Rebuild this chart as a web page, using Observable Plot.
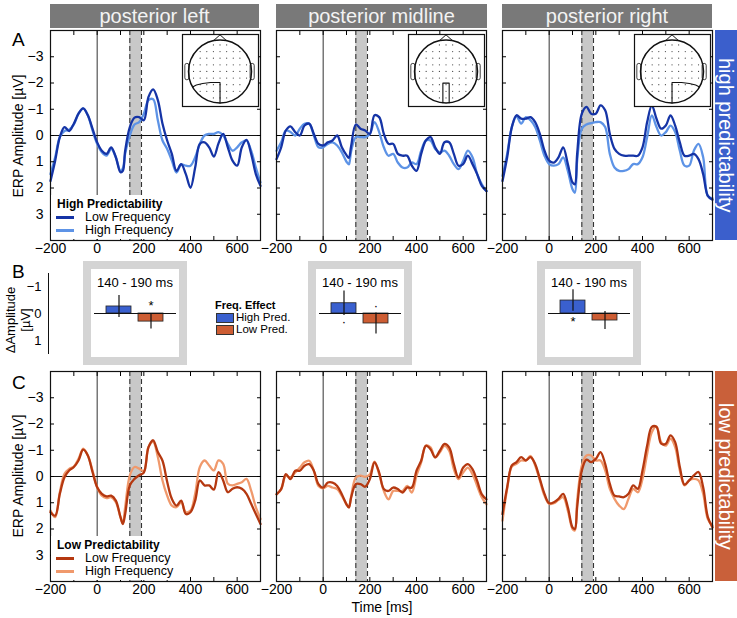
<!DOCTYPE html>
<html><head><meta charset="utf-8">
<script src="https://cdn.jsdelivr.net/npm/d3@7"></script>
<script src="https://cdn.jsdelivr.net/npm/@observablehq/plot@0.6"></script>
<style>
body{margin:0;background:#fff;font-family:"Liberation Sans",Arial,Helvetica,sans-serif;}
#fig{position:relative;width:737px;height:618px;overflow:hidden;background:#fff;}
#fig > *{position:absolute;}
.title{background:#797979;color:#f3f3f3;font-size:20px;text-align:center;height:24px;line-height:25px;}
.side{color:#fff;font-size:20px;writing-mode:vertical-rl;text-align:center;line-height:22px;width:22px;}
.plabel{font-size:19px;line-height:19px;}
.ylab{font-size:14px;white-space:nowrap;text-align:center;transform:translate(-50%,-50%) rotate(-90deg);}
.leg{background:#fff;}
.leg div{position:absolute;white-space:nowrap;}
</style>
</head><body><div id="fig"></div>
<script>
// ---------------- data ----------------
const times = [-200,-180,-160,-140,-120,-100,-80,-60,-40,-20,0,20,40,60,80,100,110,120,140,160,180,200,220,240,260,280,300,320,340,360,380,400,420,440,460,480,500,520,540,560,580,600,620,640,660,680,700];

// A: high predictability (Low Frequency = dark, High Frequency = light)
const aLeftLow   = [1.73,0.96,0.06,-0.32,-0.17,-0.45,-0.83,-1.03,-0.77,-0.26, 0.26,0.58,0.7,0.45,0.83,1.4, 1.35, 0.58,-0.32,-0.68,-0.7,-0.58,-1.47,-1.76,-1.35,-0.45, 0.19,0.7,1.35,1.09,1.47,1.99,1.22,0.32,0.26,0.45, 0.8,0.3,-0.06,0.45,0.96,1.15,0.45,0.17,0.7,1.47, 1.92];
const aLeftHigh  = [1.47,0.83,0.06,-0.17,-0.22,-0.42,-0.83,-1.03,-0.77,-0.19, 0.32,0.64,0.77,0.51,0.83,1.35, 1.25, 0.7,0,-0.42,-0.51,-0.83,-1.35,-1.38,-0.58,0.19, 0.51,0.96,1.41,1.1,1.15,1.15,0.83,0.32,0,-0.06, -0.06,-0.13,0,0.32,0.58,0.45,0.26,0.19,0.58,1.22, 1.79];
const aMidLow    = [0.9,0.45,-0.19,-0.35,-0.13,0,-0.38,-0.45,-0.06,0.32, 0.38,0.26,0.19,0,0.45,0.75, 0.85, 0.4,-0.42,-0.26,-0.19,-0.06,-0.77,-0.7,-0.06,0.32, 0.32,0.7,0.77,0.77,1.15,1.35,0.7,0.19,0.06,0.45, 0.7,0.26,0.26,0.7,1.15,1.09,0.77,1.09,1.47,1.92, 2.12];
const aMidHigh   = [0.58,0.26,-0.19,-0.13,0,-0.26,-0.45,-0.45,0,0.45, 0.45,0.32,0.26,0.38,0.64,1.0, 1.1, 0.6,0.06,0.06,0.06,-0.06,-0.51,-0.13,0.45,0.77, 0.7,1.03,1.22,1.22,1.03,1.09,0.58,0.19,0.19,0.51, 0.64,0.58,0.77,1.09,1.28,0.96,0.58,0.83,1.47,1.86, 2.12];
const aRightLow  = [1.73,0.83,-0.32,-0.77,-0.64,-0.64,-0.7,-0.51,-0.06,0.58, 0.96,1.03,0.83,0.45,1.09,1.79, 1.86, 0.7,-0.83,-1.09,-0.83,-0.83,-1.15,-0.96,-0.06,0.51, 0.7,0.77,0.77,0.77,0.77,0.45,-0.51,-1.15,-0.64,-0.26, -0.38,-0.77,-0.38,0.26,0.77,0.77,0.7,0.9,1.47,2.3, 2.45];
const aRightHigh = [1.54,0.7,-0.32,-0.73,-0.45,-0.7,-0.58,-0.32,0.19,0.77, 1.09,1.15,1.09,0.83,1.35,2.05, 2.18, 0.96,-0.26,-0.42,-0.47,-0.51,-0.51,-0.32,0.7,1.22, 1.35,1.35,1.28,1.09,1.09,0.83,0.06,-0.77,-0.32,0, -0.13,-0.38,-0.13,0.58,1.15,1.15,0.58,0.32,0.83,2.3, 2.4];

// C: low predictability
const cLeftLow   = [1.36,1.49,0.66,0.03,-0.23,-0.36,-0.61,-1.02,-0.8,-0.17, 0.41,0.66,0.76,0.73,0.92,1.55, 1.81, 1.43,0.34,0.09,-0.05,-0.15,-1.12,-1.38,-0.93,-0.6, 0.2,0.85,1.11,0.92,1.43,1.36,0.92,0.15,0.34,0.34, 0.5,-0.17,0.15,0.6,0.47,0.41,0.47,0.66,1.04,1.43, 1.81];
const cLeftHigh  = [1.3,1.55,0.6,-0.1,-0.29,-0.38,-0.67,-1.06,-0.8,-0.23, 0.41,0.73,0.82,0.79,0.98,1.55, 1.78, 1.17,-0.04,-0.36,-0.3,-0.2,-1.12,-1.32,-0.74,0.15, 0.73,1.11,1.17,0.98,1.36,1.3,0.66,-0.36,-0.61,-0.42, -0.23,-0.61,-0.48,0.28,0.34,0.28,0.22,0.09,0.54,1.17, 1.62];
const cMidLow    = [0.68,0.48,-0.09,0.1,-0.22,-0.22,-0.41,-0.47,-0.22,0.29, 0.42,0.23,0.23,0.36,0.68,1.06, 1.18, 0.8,0.29,0.29,0.39,0.1,-0.54,-0.15,0.48,0.55, 0.42,0.48,0.61,0.42,0.42,-0.22,-0.6,-1.17,-1.04,-0.73, -0.98,-1.24,-1.11,-0.47,0.04,-0.34,-0.47,-0.28,0.17,0.68, 0.87];
const cMidHigh   = [0.68,0.48,-0.03,0.04,-0.15,-0.34,-0.54,-0.6,-0.22,0.36, 0.45,0.36,0.42,0.48,0.74,1.06, 1.18, 0.74,0.04,-0.03,0.01,-0.09,-0.57,-0.09,0.55,0.87, 0.55,0.55,0.55,0.36,0.61,-0.03,-0.54,-1.17,-1.11,-0.73, -0.92,-1.17,-0.98,-0.28,0.1,-0.15,-0.34,-0.09,0.36,0.8, 1.06];
const cRightLow  = [1.43,0.41,-0.42,-0.55,-0.74,-0.61,-0.74,-0.48,0.09,0.66, 1.02,0.98,0.85,0.66,1.17,1.94, 2.0, 1.17,-0.23,-0.64,-0.55,-0.67,-0.93,-0.48,0.28,0.73, 0.76,0.79,0.66,0.34,0.47,-0.23,-1.18,-1.89,-1.89,-1.25, -1.25,-1.57,-1.31,-0.36,0.31,0.15,-0.04,-0.17,0.41,1.55, 1.94];
const cRightHigh = [1.68,0.47,-0.38,-0.48,-0.61,-0.61,-0.78,-0.42,0.15,0.73, 1.04,1.02,0.89,0.79,1.3,2.0, 2.06, 0.92,-0.42,-0.8,-0.8,-0.61,-0.61,-0.23,0.47,0.85, 1.11,1.24,0.85,0.47,0.6,0.09,-0.87,-1.69,-1.91,-1.31, -1.18,-1.44,-1.12,-0.23,0.34,0.15,0.09,0.15,0.66,1.62, 1.87];

// analysis window (ms)
const effectWindow = [140, 190];

// B: frequency effect (ΔAmplitude) per region
const conditions = ["High Pred.", "Low Pred."];
const barLeft  = [-0.26, 0.30], errLeft  = [0.41, 0.27], sigLeft  = ["", "*"];
const barMid   = [-0.38, 0.37], errMid   = [0.45, 0.39], sigMid   = ["·", "·"];
const barRight = [-0.48, 0.26], errRight = [0.40, 0.33], sigRight = ["*", ""];

// tick labels
const xLabels = [-200, 0, 200, 400, 600];
const xMinor = [-100, 0, 100, 200, 300, 400, 500, 600];
const yTicks = [-3, -2, -1, 0, 1, 2, 3];
const bTicks = [-1, 0, 1];
const regionTitles = ["posterior left", "posterior midline", "posterior right"];
const seriesNames = ["Low Frequency", "High Frequency"];

// electrode grid (scalp map) and ROIs
const elecGrid = [-0.84,-0.63,-0.42,-0.21,0,0.21,0.42,0.63,0.84];
const roiLeft  = [[0,-1],[0,-0.35],[-0.3,-0.35],[-0.55,-0.38],[-0.75,-0.43],[-0.87,-0.49]];
const roiMid   = [[-0.1,-0.99],[-0.1,-0.37],[0.1,-0.37],[0.1,-0.99]];
const roiRight = [[0,-1],[0,-0.35],[0.3,-0.35],[0.55,-0.38],[0.75,-0.43],[0.87,-0.49]];
const noseShape = [[-0.2,0.98],[0,1.16],[0.2,0.98]];
const earShapes = [{x1:-1.1,x2:-0.97,y1:-0.28,y2:0.24},{x1:0.97,x2:1.1,y1:-0.28,y2:0.24}];

// ---------------- style ----------------
const FONT = '"Liberation Sans", Arial, Helvetica, sans-serif';
const blueDark = "#1534a6", blueLight = "#5d93e6";
const orangeDark = "#b53810", orangeLight = "#f0996c";
const barBlue = "#3a60cf", barOrange = "#cd5d33";
const fmt = d => d < 0 ? "\u2212" + (-d) : String(d);

const fig = document.getElementById("fig");
function put(el, left, top) { el.style.left = left + "px"; el.style.top = top + "px"; fig.appendChild(el); return el; }
function mk(html, cls, css) { const d = document.createElement("div"); if (cls) d.className = cls; d.innerHTML = html; if (css) d.style.cssText = css; return d; }

// ---------------- ERP panels ----------------
const BW = 210, BH = 210, ML = 40, MR = 14, MT = 2, MB = 22;
function erpPanel(low, high, cLow, cHigh, showY) {
  const rows = (arr, g) => times.map((t, i) => ({t, v: arr[i], g}));
  const data = [...rows(high, seriesNames[1]), ...rows(low, seriesNames[0])];
  const marks = [
    Plot.rect([effectWindow], {x1: d => d[0], x2: d => d[1], y1: 4, y2: -4, fill: "#c8c8c8"}),
    Plot.ruleX(effectWindow, {stroke: "#333", strokeWidth: 1.1, strokeDasharray: "5,3"}),
    Plot.ruleX([0], {stroke: "#333", strokeWidth: 1}),
    Plot.ruleY([0], {stroke: "#111", strokeWidth: 1.1}),
    Plot.line(data, {x: "t", y: "v", z: "g", stroke: d => d.g === seriesNames[0] ? cLow : cHigh, strokeWidth: 2.3, curve: "catmull-rom"}),
    Plot.frame({stroke: "#111", strokeWidth: 1.2}),
    Plot.axisX(xMinor, {anchor: "bottom", tickSize: -4, tickFormat: () => "", label: null}),
    Plot.axisX(xMinor, {anchor: "top", tickSize: -4, tickFormat: () => "", label: null}),
    Plot.axisY(yTicks, {anchor: "left", tickSize: -4, tickFormat: () => "", label: null}),
    Plot.axisY(yTicks, {anchor: "right", tickSize: -4, tickFormat: () => "", label: null}),
    Plot.axisX(xLabels, {anchor: "bottom", tickSize: 0, tickPadding: 3, tickFormat: fmt, label: null, fontSize: 14})
  ];
  if (showY) marks.push(Plot.axisY(yTicks, {anchor: "left", tickSize: 0, tickPadding: 7, tickFormat: fmt, label: null, fontSize: 14}));
  return Plot.plot({
    width: ML + BW + MR, height: MT + BH + MB,
    marginLeft: ML, marginRight: MR, marginTop: MT, marginBottom: MB,
    style: `font-family:${FONT};font-size:14px;background:transparent;overflow:visible;`,
    x: {domain: [-200, 700]},
    y: {domain: [4, -4]},
    marks
  });
}

const boxLefts = [50, 276, 502];
const topA = 30, topC = 371;
put(erpPanel(aLeftLow, aLeftHigh, blueDark, blueLight, true), boxLefts[0] - ML, topA - MT);
put(erpPanel(aMidLow, aMidHigh, blueDark, blueLight, false), boxLefts[1] - ML, topA - MT);
put(erpPanel(aRightLow, aRightHigh, blueDark, blueLight, false), boxLefts[2] - ML, topA - MT);
put(erpPanel(cLeftLow, cLeftHigh, orangeDark, orangeLight, true), boxLefts[0] - ML, topC - MT);
put(erpPanel(cMidLow, cMidHigh, orangeDark, orangeLight, false), boxLefts[1] - ML, topC - MT);
put(erpPanel(cRightLow, cRightHigh, orangeDark, orangeLight, false), boxLefts[2] - ML, topC - MT);

// legends inside left panels
function erpLegend(title, cLow, cHigh, top) {
  const d = mk(`
    <div style="left:6px;top:2px;font-weight:bold;font-size:12px;line-height:14px;">${title}</div>
    <div style="left:5px;top:21px;width:18px;height:3px;background:${cLow};"></div>
    <div style="left:34px;top:15px;font-size:12.5px;line-height:14px;">${seriesNames[0]}</div>
    <div style="left:5px;top:34px;width:18px;height:3px;background:${cHigh};"></div>
    <div style="left:34px;top:28px;font-size:12.5px;line-height:14px;">${seriesNames[1]}</div>`,
    "leg", "width:127px;height:44px;");
  put(d, 51, top);
}
erpLegend("High Predictability", blueDark, blueLight, 195);
erpLegend("Low Predictability", orangeDark, orangeLight, 536);

// scalp insets
const electrodes = [];
for (const y of elecGrid) for (const x of elecGrid) if (x * x + y * y < 0.8) electrodes.push({x, y});
function headInset(roi) {
  return Plot.plot({
    width: 76, height: 72, margin: 0,
    x: {domain: [-1.19, 1.22], axis: null}, y: {domain: [-1.11, 1.17], axis: null},
    style: "background:#fff;overflow:visible;",
    marks: [
      Plot.frame({stroke: "#111", strokeWidth: 1.2}),
      Plot.dot(electrodes, {x: "x", y: "y", r: 0.6, fill: "#444"}),
      Plot.rect(earShapes, {x1: "x1", x2: "x2", y1: "y1", y2: "y2", fill: "#fff", stroke: "#111", strokeWidth: 0.8, rx: 2}),
      Plot.line(noseShape, {stroke: "#111", strokeWidth: 1}),
      Plot.dot([[0, 0]], {r: 31.5, stroke: "#111", strokeWidth: 1.5, fill: "none"}),
      Plot.line(roi, {stroke: "#111", strokeWidth: 1.1})
    ]
  });
}
put(headInset(roiLeft), 182, 34);
put(headInset(roiMid), 408, 34);
put(headInset(roiRight), 634, 34);

// title bars
const titleW = [209, 211, 210];
regionTitles.forEach((t, i) => put(mk(t, "title", `width:${titleW[i]}px;`), boxLefts[i], 4));

// side bars
put(mk("high predictability", "side", `height:210px;background:#3b5fcc;`), 715, 30);
put(mk("low predictability", "side", `height:210px;background:#c9603a;`), 715, 371);

// panel letters
put(mk("A", "plabel"), 12, 30);
put(mk("B", "plabel"), 12, 262);
put(mk("C", "plabel"), 12, 373);

// axis labels
put(mk("ERP Amplitude [µV]", "ylab"), 18, 136);
put(mk("ERP Amplitude [µV]", "ylab"), 18, 476);
put(mk("Time [ms]", "", "font-size:14px;transform:translate(-50%,-50%);white-space:nowrap;"), 382, 607);
put(mk("ΔAmplitude<br>[µV]", "ylab", "font-size:13px;line-height:15px;"), 18, 320);

// B axis
const bAxis = Plot.plot({
  width: 50, height: 88, marginLeft: 48, marginRight: 1, marginTop: 0, marginBottom: 0,
  style: `font-family:${FONT};font-size:13px;background:transparent;overflow:visible;`,
  y: {domain: [1.63, -1.63]},
  marks: [
    Plot.frame({anchor: "left", stroke: "#111", insetTop: 4, insetBottom: 4}),
    Plot.axisY(bTicks, {anchor: "left", tickSize: 0, tickPadding: 7, tickFormat: fmt, label: null, fontSize: 13})
  ]
});
put(bAxis, 0, 269);

// B bar boxes
function barBox(vals, errs, sigs) {
  const data = conditions.map((c, i) => ({cond: c, v: vals[i], e: errs[i], sig: sigs[i]}));
  const svg = Plot.plot({
    width: 88, height: 88, marginLeft: 11.5, marginRight: 12.5, marginTop: 0, marginBottom: 0,
    style: `font-family:${FONT};background:#fff;overflow:visible;display:block;`,
    x: {domain: conditions, paddingInner: 0.22, paddingOuter: 0.11, axis: null},
    y: {domain: [1.63, -1.63], axis: null},
    color: {domain: conditions, range: [barBlue, barOrange]},
    marks: [
      Plot.text(["140 - 190 ms"], {frameAnchor: "top", dy: 8, fontSize: 13}),
      Plot.barY(data, {x: "cond", y: "v", fill: "cond", stroke: "#222", strokeWidth: 0.8}),
      Plot.ruleY([0], {stroke: "#111", strokeWidth: 1, insetLeft: -8.5, insetRight: -9.5}),
      Plot.ruleX(data, {x: "cond", y1: d => d.v - d.e, y2: d => d.v + d.e, stroke: "#111", strokeWidth: 1.2}),
      Plot.text(data, {x: "cond", y: d => -Math.sign(d.v) * 0.3, text: "sig", fontSize: 13})
    ]
  });
  const wrap = mk("", "", "border:8px solid #d4d4d4;background:#fff;width:88px;height:88px;");
  wrap.appendChild(svg);
  return wrap;
}
put(barBox(barLeft, errLeft, sigLeft), 83, 261);
put(barBox(barMid, errMid, sigMid), 308, 261);
put(barBox(barRight, errRight, sigRight), 537, 261);

// Freq. Effect legend
put(mk(`
  <div style="left:0;top:0;font-weight:bold;font-size:11px;line-height:13px;">Freq. Effect</div>
  <div style="left:1px;top:14px;width:16px;height:8px;background:${barBlue};border:1px solid #333;"></div>
  <div style="left:21px;top:12px;font-size:11.5px;line-height:13px;">${conditions[0]}</div>
  <div style="left:1px;top:26px;width:16px;height:8px;background:${barOrange};border:1px solid #333;"></div>
  <div style="left:21px;top:24px;font-size:11.5px;line-height:13px;">${conditions[1]}</div>`,
  "leg", "width:75px;height:40px;background:transparent;"), 215, 299);
</script>
</body></html>
